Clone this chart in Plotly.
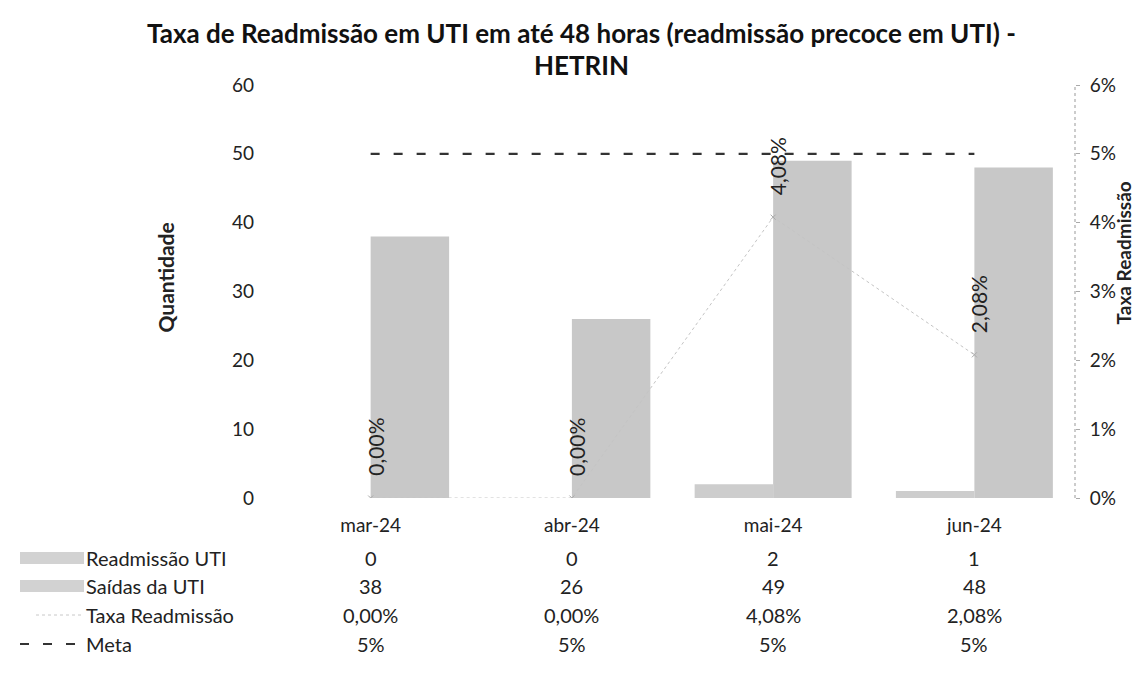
import plotly.graph_objects as go

# ---- data ----
categories = ["mar-24", "abr-24", "mai-24", "jun-24"]
readmissao = [0, 0, 2, 1]
saidas = [38, 26, 49, 48]
taxa = [0.0, 0.0, 0.0408, 0.0208]
meta = [0.05, 0.05, 0.05, 0.05]
series_names = ["Readmissão UTI", "Saídas da UTI", "Taxa Readmissão", "Meta"]
left_ticks = [0, 10, 20, 30, 40, 50, 60]
right_ticks = [0, 0.01, 0.02, 0.03, 0.04, 0.05, 0.06]
title_lines = ["Taxa de Readmissão em UTI em até 48 horas (readmissão precoce em UTI) -", "HETRIN"]

FONT = "Lato"
TXT = "#222222"
FS = 19

W, H = 1147, 683
L, R_EDGE, T, B_EDGE = 262, 1067, 77, 490
pw, ph = R_EDGE - L, B_EDGE - T


def px(x):
    return (x - L) / pw


def py(y):
    return (B_EDGE - y) / ph


def pct(v, d=2):
    return (f"{v*100:.{d}f}%").replace(".", ",")


fig = go.Figure()
fig.add_trace(go.Bar(x=categories, y=readmissao, name=series_names[0],
                     marker=dict(color="#cdcdcd", line=dict(width=0)), showlegend=False))
fig.add_trace(go.Bar(x=categories, y=saidas, name=series_names[1],
                     marker=dict(color="#c8c8c8", line=dict(width=0)), showlegend=False))
fig.add_trace(go.Scatter(x=categories, y=taxa, name=series_names[2], yaxis="y2",
                         mode="lines+markers",
                         line=dict(color="#c4c4c4", width=1, dash="dot"),
                         marker=dict(symbol="x-thin", size=5, color="#aaaaaa",
                                     line=dict(width=1, color="#aaaaaa")),
                         showlegend=False))
fig.add_trace(go.Scatter(x=categories, y=meta, name=series_names[3], yaxis="y2",
                         mode="lines",
                         line=dict(color="#333333", width=2.2, dash="9px,14px"),
                         showlegend=False))

annotations = []
# title
for ty, line in zip([25, 57], title_lines):
    annotations.append(dict(x=(W / 2 - L) / pw, y=py(ty), xref="paper", yref="paper",
                            text=f"<b>{line}</b>", showarrow=False, xanchor="center",
                            yanchor="middle", font=dict(family=FONT, size=26, color="#111111")))

# rotated data labels for Taxa
for c, v in zip(categories, taxa):
    annotations.append(dict(x=c, y=v, xref="x", yref="y2", text=pct(v),
                            textangle=-90, showarrow=False, yanchor="bottom",
                            xanchor="center", yshift=20, xshift=4,
                            font=dict(family=FONT, size=21, color=TXT)))

# data table
rows = [
    [str(v) for v in readmissao],
    [str(v) for v in saidas],
    [pct(v) for v in taxa],
    [pct(v, 0) for v in meta],
]
row_y = [550, 578, 607, 636]
for ry, vals, name in zip(row_y, rows, series_names):
    for c, t in zip(categories, vals):
        annotations.append(dict(x=c, y=py(ry), xref="x", yref="paper", text=t,
                                showarrow=False, xanchor="center", yanchor="middle",
                                font=dict(family=FONT, size=20, color=TXT)))
    annotations.append(dict(x=px(76), y=py(ry), xref="paper", yref="paper", text=name,
                            showarrow=False, xanchor="left", yanchor="middle",
                            font=dict(family=FONT, size=20, color=TXT)))

# axis titles
annotations.append(dict(x=px(142), y=py(270), xref="paper", yref="paper", text="<b>Quantidade</b>",
                        textangle=-90, showarrow=False,
                        font=dict(family=FONT, size=21, color=TXT)))
annotations.append(dict(x=px(1128), y=py(245), xref="paper", yref="paper", text="<b>Taxa Readmissão</b>",
                        textangle=-90, showarrow=False,
                        font=dict(family=FONT, size=19, color=TXT)))

shapes = []
# legend keys
for ry in row_y[:2]:
    shapes.append(dict(type="rect", xref="paper", yref="paper",
                       x0=px(12), x1=px(76), y0=py(ry + 6), y1=py(ry - 6),
                       fillcolor="#d2d2d2", line=dict(width=0)))
shapes.append(dict(type="line", xref="paper", yref="paper",
                   x0=px(28), x1=px(76), y0=py(row_y[2]), y1=py(row_y[2]),
                   line=dict(color="#c8c8c8", width=1, dash="dot")))
shapes.append(dict(type="line", xref="paper", yref="paper",
                   x0=px(12), x1=px(76), y0=py(row_y[3]), y1=py(row_y[3]),
                   line=dict(color="#333333", width=2.2, dash="9px,14px")))
# right axis dotted line
shapes.append(dict(type="line", xref="paper", yref="paper", x0=1, x1=1, y0=0, y1=1,
                   line=dict(color="#999999", width=1, dash="dot")))

fig.update_layout(
    width=W, height=H,
    margin=dict(l=L, r=W - R_EDGE, t=T, b=H - B_EDGE),
    paper_bgcolor="white", plot_bgcolor="white",
    barmode="group", bargap=0.22, bargroupgap=0.0,
    font=dict(family=FONT, size=FS, color=TXT),
    xaxis=dict(showline=False, showgrid=False, zeroline=False, ticks="",
               ticklabelstandoff=14, tickfont=dict(family=FONT, size=FS, color=TXT)),
    yaxis=dict(range=[0, 60], tickvals=left_ticks, showline=False, showgrid=False,
               zeroline=False, ticks="", ticklabelstandoff=15,
               tickfont=dict(family=FONT, size=FS, color=TXT)),
    yaxis2=dict(range=[0, 0.06], tickvals=right_ticks, ticktext=[pct(v, 0) for v in right_ticks],
                overlaying="y", side="right", showline=False, showgrid=False, zeroline=False,
                ticks="outside", ticklen=4, tickcolor="#aaaaaa", ticklabelstandoff=6,
                tickfont=dict(family=FONT, size=FS, color=TXT)),
    showlegend=False,
    annotations=annotations,
    shapes=shapes,
)

fig.write_html("out.html")
